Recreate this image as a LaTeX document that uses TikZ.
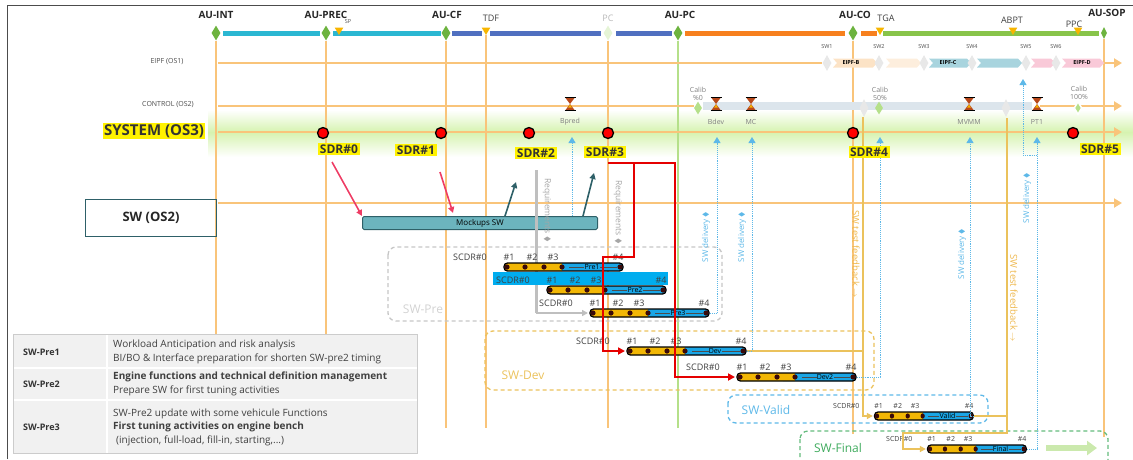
\documentclass[tikz,border=0pt]{standalone}
\usepackage{amssymb}
\usepackage{fontspec}
\setmainfont{Open Sans}
\usetikzlibrary{shapes.geometric,arrows.meta}

% colours
\definecolor{lineor}{HTML}{F9C47A}
\definecolor{fbgold}{HTML}{EBC25C}
\definecolor{msgreen}{HTML}{6DB33F}
\definecolor{trigold}{HTML}{F7B500}
\definecolor{cyanbar}{HTML}{2BB7D2}
\definecolor{bluebar}{HTML}{5070C0}
\definecolor{orbar}{HTML}{F7801E}
\definecolor{grbar}{HTML}{88C44A}
\definecolor{glow}{HTML}{D6F3B0}
\definecolor{baryel}{HTML}{F2B705}
\definecolor{barblue}{HTML}{1AA6E6}
\definecolor{dotred}{HTML}{3A0A0A}
\definecolor{skyl}{HTML}{5DB8E8}
\definecolor{hgbrown}{HTML}{B8481A}
\definecolor{mockteal}{HTML}{6CB4BE}
\definecolor{mockdark}{HTML}{2E6068}
\definecolor{arrpink}{HTML}{EE3C64}
\definecolor{tabgrey}{HTML}{F1F1F1}
\definecolor{eipfB}{HTML}{FCE3C6}
\definecolor{eipfC}{HTML}{A8D4DE}
\definecolor{eipfD}{HTML}{F9C9D8}
\definecolor{ctlgrey}{HTML}{DCE5EC}
\definecolor{paleg}{HTML}{B5E08A}
\definecolor{fingreen}{HTML}{3DAA5C}

\newcommand{\fsz}[1]{\fontsize{#1}{#1}\selectfont}
\newcommand{\chev}[3]{\fill[#3] (#1,58.5) -- (#2,58.5) -- ++(4,4.5) -- ++(-4,4.5) -- (#1,67.5) -- ++(4,-4.5) -- cycle;}

\tikzset{
  scdrlbl/.style={font=\fsz{9}, text=black!75},
  pics/hglass/.style={code={
    \fill[hgbrown] (-4.5,-6) -- (4.5,-6) -- (0,0) -- cycle;
    \fill[hgbrown] (-4.5,6) -- (4.5,6) -- (0,0) -- cycle;
    \fill[trigold] (-1.8,3.5) -- (1.8,3.5) -- (0,0.5) -- cycle;
    \draw[line width=1.6pt] (-5.5,-6.5) -- (5.5,-6.5) (-5.5,6.5) -- (5.5,6.5);
  }},
  pics/scdr/.style={code={
    \fill[barblue, rounded corners=3pt] (40,-4) rectangle (116,4);
    \fill[baryel, rounded corners=3pt] (-3,-4) rectangle (58,4);
    \fill[barblue] (55,-4) rectangle (60,4);
    \draw[black!70, line width=0.6pt] (62,0) -- (110,0);
    \node[font=\fsz{7}, fill=barblue, inner sep=0.3pt] (-n) at (85,0) {#1};
    \draw[line width=1.3pt, rounded corners=3.5pt] (-3,-4) rectangle (116,4);
    \foreach \d in {0,18,37,55,113} \fill[dotred] (\d,0) circle (2.6pt);
    \foreach \l/\p in {SCDR\#0/-37, \#1/2, \#2/25, \#3/46, \#4/111}
      \node[scdrlbl] at (\p,-10) {\l};
    \coordinate (-s) at (-5,0);
    \coordinate (-e) at (117,0);
  }}
}

\begin{document}
\begin{tikzpicture}[x=1pt, y=-1pt,
  every node/.style={inner sep=1pt},
  msline/.style={draw=lineor, line width=2.4pt},
  lane/.style={msline, -{Triangle[length=8pt, width=9pt]}},
  fbline/.style={draw=fbgold, line width=1.6pt},
  skyline/.style={draw=skyl, line width=0.9pt, densely dotted, -{Triangle[length=6pt, width=7pt]}},
  redl/.style={draw=red!90!black, line width=1.8pt, -{Triangle[length=7pt, width=7pt]}},
  gate/.style={diamond, fill=msgreen, inner sep=0pt, minimum width=9pt, minimum height=15pt},
  tri/.style={regular polygon, regular polygon sides=3, shape border rotate=180, fill=trigold, inner sep=0pt, minimum size=10pt},
  gatelbl/.style={font=\bfseries\fsz{10}, text=black!85},
  evlbl/.style={font=\fsz{9}, text=black!75},
  gdia/.style={diamond, fill=gray!18, inner sep=0pt, minimum width=9pt, minimum height=16pt},
  cdia/.style={diamond, fill=paleg, inner sep=0pt, minimum width=8pt, minimum height=13pt},
  sdr/.style={circle, fill=red, draw=black, line width=1.3pt, minimum size=11pt, inner sep=0pt},
  hl/.style={fill=yellow, font=\bfseries\fsz{12}, text=black!80, inner sep=1.5pt},
  smalltxt/.style={font=\fsz{7}, text=black!70},
  tinytxt/.style={font=\fsz{5.5}, text=black!70},
  deliv/.style={font=\fsz{8}, text=skyl, rotate=90},
  req/.style={font=\fsz{8.5}, text=gray!70, rotate=-90},
  fbtxt/.style={font=\fsz{9.5}, text=fbgold!85!orange, rotate=-90},
  phase/.style={rounded corners=8pt, line width=1.3pt, dash pattern=on 4pt off 3pt},
  phlbl/.style={font=\fsz{12}},
  rowhd/.style={anchor=west, font=\bfseries\fsz{9}, text=black!80},
  tabtxt/.style={anchor=west, align=left, font=\fontsize{10}{13.5}\selectfont, text=black!75}]

\useasboundingbox (0,0) rectangle (1133,459);

% glow of the SYSTEM lane
\shade[top color=white, bottom color=glow] (208,110) rectangle (1133,132);
\shade[top color=glow, bottom color=white] (208,132) rectangle (1133,157);

% frame
\draw[gray!60!black, line width=0.7pt] (7,459) -- (7,5) -- (1133,5);

% milestone bar
\draw[line width=5pt, cyanbar] (223,33) -- (320,33) (333,33) -- (441,33);
\draw[line width=5pt, bluebar] (452,33) -- (482,33) (490,33) -- (601,33) (616,33) -- (672,33);
\draw[line width=5pt, orbar] (685,33) -- (845,33) (861,33) -- (877,33);
\draw[line width=5pt, grbar] (883,33) -- (1099,33);

\node[gate] (gint) at (216,33) {};
\node[gate] (gprec) at (326,33) {};
\node[gate] (gcf) at (446,33) {};
\node[gate, fill=paleg!35] (gpc) at (608,33) {};
\node[gate] (gaupc) at (678,33) {};
\node[gate] (gco) at (853,33) {};
\node[gate, minimum width=6pt, minimum height=12pt] (gsop) at (1104,33) {};
\foreach \nm/\xx in {sp/339, tdf/486, tga/880, abpt/1013, ppc/1078}
  \node[tri] (t\nm) at (\xx,30) {};

\node[gatelbl] (lint) at (216,15) {AU-INT};
\node[gatelbl] (lprec) at (326,15) {AU-PREC};
\node[tinytxt] (lsp) at (348,22) {SP};
\node[gatelbl] (lcf) at (447,15) {AU-CF};
\node[evlbl] (ltdf) at (491,18) {TDF};
\node[evlbl, text=gray!55] (lpc) at (608,18) {PC};
\node[gatelbl] (laupc) at (680,15) {AU-PC};
\node[gatelbl] (lco) at (855,15) {AU-CO};
\node[evlbl] (ltga) at (886,18) {TGA};
\node[evlbl] (labpt) at (1012,20) {ABPT};
\node[evlbl] (lppc) at (1074,24) {PPC};
\node[gatelbl] (lsop) at (1107,13) {AU-SOP};

% vertical milestone lines
\draw[msline] (gint.south) -- (gint.south |- 0,334);
\draw[msline] (gprec.south) -- (gprec.south |- 0,334);
\foreach \g/\yy in {gcf/428, ttdf/428, gpc/428, gco/434, gsop/437}
  \draw[msline] (\g.south) -- (\g.south |- 0,\yy);
\draw[paleg, line width=2pt] (gaupc.south) -- (gaupc.south |- 0,428);

% lanes
\draw[msline] (218,63) -- (822,63);
\draw[lane] (1100,63) -- (1122,63);
\draw[msline] (218,106) -- (694,106);
\fill[ctlgrey] (703,102) rectangle (1032,110);
\draw[lane] (1040,106) -- (1122,106);
\draw[lane] (218,132) -- (1122,132);
\draw[lane] (218,203) -- (1122,203);

\node[smalltxt] (leipf) at (167,62) {EIPF (OS1)};
\node[smalltxt] (lctl) at (168,105) {CONTROL (OS2)};
\node[hl, font=\bfseries\fsz{15}] (lsys) at (154,131) {SYSTEM (OS3)};
\node[draw=mockdark, line width=1.8pt, minimum width=131pt, minimum height=37pt, font=\bfseries\fsz{13}, text=black!85] (lsw) at (151,218) {SW (OS2)};

% EIPF lane
\chev{833}{873}{eipfB} \chev{886}{917}{eipfB!60}
\chev{929}{967}{eipfC} \chev{977}{1018}{eipfC}
\chev{1031}{1051}{eipfD} \chev{1062}{1100}{eipfD}
\node[font=\bfseries\fsz{5.5}] (eb) at (851,63) {EIPF-B};
\node[font=\bfseries\fsz{5.5}] (ec) at (948,63) {EIPF-C};
\node[font=\bfseries\fsz{5.5}] (ed) at (1082,63) {EIPF-D};
\foreach \k/\xx in {1/827,2/879,3/924,4/972,5/1026,6/1056} {
  \node[gdia] (sw\k) at (\xx,63) {};
  \node[tinytxt] (swl\k) at (\xx,47) {SW\k};
}

% CONTROL lane
\node[cdia] (cal0) at (698,108) {};
\node[smalltxt, align=center, font=\fontsize{7}{8.5}\selectfont, text=gray] (cal0l) at (698,94) {Calib\\\%0};
\node[gdia, minimum height=18pt] (gd1) at (864,108) {};
\node[gdia, minimum height=18pt] (gd2) at (1006,108) {};
\node[cdia] (cal50) at (879,108) {};
\node[smalltxt, align=center, font=\fontsize{7}{8.5}\selectfont, text=gray] (cal50l) at (880,94) {Calib\\50\%};
\node[cdia, draw=white, line width=1.5pt] (cal100) at (1078,108) {};
\node[smalltxt, align=center, font=\fontsize{7}{8.5}\selectfont, text=gray] (cal100l) at (1079,93) {Calib\\100\%};
\foreach \nm/\xx in {Bpred/570, Bdev/716, MC/751, MVMM/969, PT1/1037} {
  \pic at (\xx,104) {hglass};
  \node[smalltxt, text=gray] (h\nm) at (\xx,122) {\nm};
}

% phase boxes
\draw[phase, gray!45] (388,247) rectangle (722,321);
\node[phlbl, text=gray!35] (lpre) at (423,309) {SW-Pre};
\draw[phase, fbgold] (485,331) rectangle (874,390);
\node[phlbl, text=fbgold] (ldev) at (523,375) {SW-Dev};
\draw[phase, skyl] (728,395) rectangle (988,423);
\node[phlbl, text=skyl] (lval) at (766,410) {SW-Valid};
\draw[phase, fingreen!80] (800,431) rectangle (1108,472);
\node[phlbl, text=fingreen] (lfin) at (838,448) {SW-Final};
\draw[paleg!70, line width=6pt, -{Triangle[length=10pt, width=14pt]}] (1046,448) -- (1097,448);

% mockups
\node[draw=mockdark, fill=mockteal, line width=1pt, minimum width=235pt, minimum height=13pt, inner sep=0pt, rounded corners=1.5pt, font=\fsz{8}] (mock) at (480,223) {Mockups SW};
\draw[arrpink, line width=1.6pt, -{Triangle[length=6pt, width=6pt]}] (332,162) -- (mock.north west);
\draw[arrpink, line width=1.6pt, -{Triangle[length=6pt, width=6pt]}] (440,172) -- (453,213);
\draw[mockdark, line width=1.6pt, -{Triangle[length=6pt, width=6pt]}] ([xshift=25]mock.north) -- (516,182);
\draw[mockdark, line width=1.6pt, -{Triangle[length=6pt, width=6pt]}] ([xshift=103]mock.north) -- (594,173);

% requirements
\draw[gray!50, line width=3pt] (536,170) -- (536,313);
\node[req] (rq1) at (547,210) {Requirements $\blacklozenge$};
\node[req] (rq2) at (618,212) {Requirements $\blacklozenge$};

% SCDR bars
\fill[cyan] (493,272) rectangle (668,285);
\pic (pre1) at (507,267) {scdr=Pre1};
\pic (pre2) at (550,290) {scdr=Pre2};
\pic (pre3) at (593,313) {scdr=Pre3};
\pic (dev) at (630,351) {scdr=Dev};
\pic (devb) at (740,377) {scdr=Dev2};
\pic[xscale=0.83, scdrlbl/.style={font=\fsz{7}, text=black!75}] (valid) at (877,416) {scdr=Valid};
\pic[xscale=0.83, scdrlbl/.style={font=\fsz{7}, text=black!75}] (final) at (930,449) {scdr=Final};
\draw[gray!50, line width=1.5pt, -{Triangle[length=6pt, width=6pt]}] (536,313) -- (pre3-s);

% red links
\coordinate (rtop) at (608,163);
\draw[redl] (rtop) -- (675,163) |- (devb-s);
\draw[redl] (634,163) |- (603,257) |- (dev-s);

% test feedback
\coordinate (fba) at (863,117);
\coordinate (fbb) at (1007,118);
\draw[fbline] (dev-e) -- (dev-e -| fba);
\draw[fbline, -{Triangle[length=6pt, width=6pt]}] (fba) |- (valid-s);
\draw[fbline] (valid-e) -- (valid-e -| fbb);
\draw[fbline, -{Triangle[length=6pt, width=6pt]}] (fbb) |- (903,433) |- (final-s);
\node[fbtxt] (fb1) at (856,254) {SW test feedback \textbf{$\rightarrow$}};
\node[fbtxt] (fb2) at (1014,298) {SW test feedback \textbf{$\rightarrow$}};

% SW delivery
\draw[skyline] (mock.north -| 572,0) -- (572,137);
\draw[skyline] (pre3-e) -| (717,137);
\draw[skyline] (dev-e) -| (752,137);
\draw[skyline] (devb-e) -| (880,137);
\draw[skyline] (valid-e) -| (970,137);
\draw[skyline] (final-e) -| (1037,137);
\draw[skyline] (1037,155) -| (1023,79);
\node[deliv] (d1) at (706,237) {SW delivery $\blacklozenge$};
\node[deliv] (d2) at (742,237) {SW delivery $\blacklozenge$};
\node[deliv] (d3) at (962,254) {SW delivery $\blacklozenge$};
\node[deliv] (d4) at (1027,198) {SW delivery $\blacklozenge$};

% SDR milestones
\foreach \k/\xx/\lx/\ly in {0/323/339/149, 1/441/416/150, 2/529/536/153, 3/608/605/152, 4/853/869/152, 5/1073/1100/149} {
  \node[sdr] (sdr\k) at (\xx,133) {};
  \node[hl] (sdrl\k) at (\lx,\ly) {SDR\#\k};
}

% table
\fill[tabgrey] (13,334) rectangle (417,453);
\draw[white, line width=2pt] (13,368) -- (417,368) (13,400) -- (417,400) (107,334) -- (107,453);
\draw[gray!40, line width=0.6pt] (13,334) rectangle (417,453);
\node[rowhd] (r1) at (22,352) {SW-Pre1};
\node[rowhd] (r2) at (22,384) {SW-Pre2};
\node[rowhd] (r3) at (22,427) {SW-Pre3};
\node[tabtxt] (t1) at (112,352) {Workload Anticipation and risk analysis\\BI/BO \& Interface preparation for shorten SW-pre2 timing};
\node[tabtxt] (t2) at (112,384) {\textbf{Engine functions and technical definition management}\\Prepare SW for first tuning activities};
\node[tabtxt] (t3) at (112,427) {SW-Pre2 update with some vehicule Functions\\\textbf{First tuning activities on engine bench}\\\hspace{3pt}(injection, full-load, fill-in, starting,...)};
\end{tikzpicture}
\end{document}
